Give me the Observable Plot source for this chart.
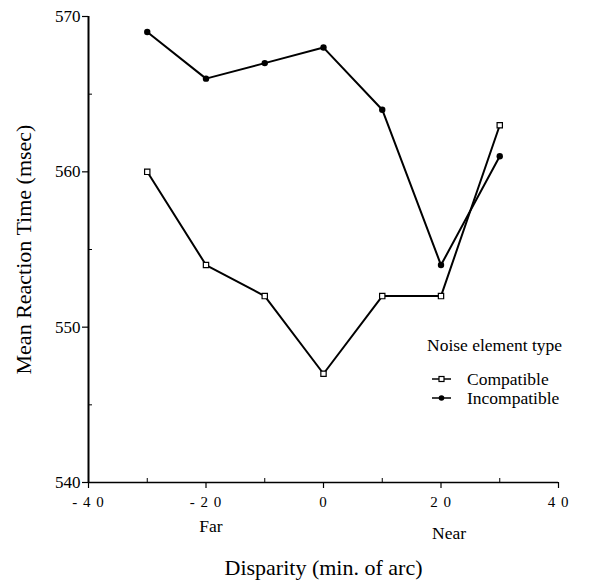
<!DOCTYPE html>
<html><head><meta charset="utf-8">
<script src="https://cdn.jsdelivr.net/npm/d3@7"></script>
<script src="https://cdn.jsdelivr.net/npm/@observablehq/plot@0.6"></script>
<style>
body{margin:0;background:#fff;}
#wrap{position:relative;width:594px;height:582px;}
#wrap svg text{font-family:"Liberation Serif","Times New Roman","DejaVu Serif",serif !important;}
#legend{position:absolute;left:0;top:0;}
</style></head>
<body><div id="wrap"></div>
<script>
const disparity = [-30, -20, -10, 0, 10, 20, 30];
const compatible = [560, 554, 552, 547, 552, 552, 563];
const incompatible = [569, 566, 567, 568, 564, 554, 561];
const seriesNames = ["Compatible", "Incompatible"];
const xTicks = [-40, -20, 0, 20, 40];
const xMinor = [-30, -10, 10, 30];
const yTicks = [540, 550, 560, 570];
const yMinor = [545, 555, 565];
const xTickLabels = ["- 4 0", "- 2 0", "0", "2 0", "4 0"];
const sideLabels = [{x: -20, t: "Far"}, {x: 20, t: "Near"}];

const data = [];
disparity.forEach((d, i) => {
  data.push({x: d, y: compatible[i], s: seriesNames[0]});
  data.push({x: d, y: incompatible[i], s: seriesNames[1]});
});
const comp = data.filter(d => d.s === "Compatible");
const inc = data.filter(d => d.s === "Incompatible");

const chart = Plot.plot({
  width: 594, height: 582,
  marginLeft: 88, marginRight: 36, marginTop: 16, marginBottom: 100,
  style: {color: "#000", background: "#fff"},
  x: {domain: [-40, 40]},
  y: {domain: [540, 570]},
  marks: [
    Plot.axisX({ticks: xTicks, tickSize: 6, tickPadding: 8, stroke: "#000", strokeWidth: 1.2,
      tickFormat: d => xTickLabels[xTicks.indexOf(d)],
      label: "Disparity (min. of arc)", labelAnchor: "center", labelArrow: "none", labelOffset: 92}),
    Plot.axisX({ticks: xMinor, tickSize: 4, dy: -4, tickFormat: () => "", label: null, stroke: "#000"}),
    Plot.axisY({ticks: yTicks, tickSize: 6, tickPadding: 2, stroke: "#000", strokeWidth: 1.2,
      label: "Mean Reaction Time (msec)", labelAnchor: "center", labelArrow: "none", labelOffset: 73}),
    Plot.axisY({ticks: yMinor, tickSize: 4, dx: 4, tickFormat: () => "", label: null, stroke: "#000"}),
    Plot.ruleX([-40], {stroke: "#000", strokeWidth: 2}),
    Plot.ruleY([540], {stroke: "#000", strokeWidth: 1.5}),
    Plot.line(comp, {x: "x", y: "y", stroke: "#000", strokeWidth: 2}),
    Plot.line(inc, {x: "x", y: "y", stroke: "#000", strokeWidth: 2}),
    Plot.dot(comp, {x: "x", y: "y", symbol: "square", r: 3, fill: "#fff", stroke: "#000", strokeWidth: 1.2}),
    Plot.dot(inc, {x: "x", y: "y", r: 3.2, fill: "#000"}),
    Plot.text(sideLabels.slice(0, 1), {x: "x", text: "t", frameAnchor: "bottom", dx: 5, dy: 49, fill: "#000"}),
    Plot.text(sideLabels.slice(1), {x: "x", text: "t", frameAnchor: "bottom", dx: 8, dy: 56, fill: "#000"})
  ]
});
chart.querySelectorAll('[aria-label="x-axis tick label"] text').forEach(t => { t.style.fontSize = "15px"; t.style.letterSpacing = "1px"; });
chart.querySelectorAll('[aria-label="y-axis tick label"] text').forEach(t => { t.style.fontSize = "17px"; });
chart.querySelectorAll('[aria-label="text"] text').forEach(t => { t.style.fontSize = "17.5px"; });
chart.querySelectorAll('[aria-label="x-axis label"] text, [aria-label="y-axis label"] text, text[aria-label="x-axis label"], text[aria-label="y-axis label"]').forEach(t => { t.style.fontSize = "22px"; });
const wrap = document.getElementById("wrap");
wrap.appendChild(chart);

// legend overlay
const ns = "http://www.w3.org/2000/svg";
const lg = document.createElementNS(ns, "svg");
lg.setAttribute("id", "legend");
lg.setAttribute("width", 594); lg.setAttribute("height", 582);
function el(name, attrs, text) {
  const e = document.createElementNS(ns, name);
  for (const k in attrs) e.setAttribute(k, attrs[k]);
  if (text) e.textContent = text;
  lg.appendChild(e); return e;
}
el("text", {x: 427, y: 351, "font-size": 17.5}, "Noise element type");
seriesNames.forEach((n, i) => {
  const y = 379 + i * 19;
  el("line", {x1: 432, x2: 451, y1: y, y2: y, stroke: "#000", "stroke-width": 1.5});
  if (i === 0) el("rect", {x: 439, y: y - 2.5, width: 5, height: 5, fill: "#fff", stroke: "#000", "stroke-width": 1.2});
  else el("circle", {cx: 441.5, cy: y, r: 2.8, fill: "#000"});
  el("text", {x: 467, y: y + 6, "font-size": 17.5}, n);
});
wrap.appendChild(lg);
</script></body></html>
